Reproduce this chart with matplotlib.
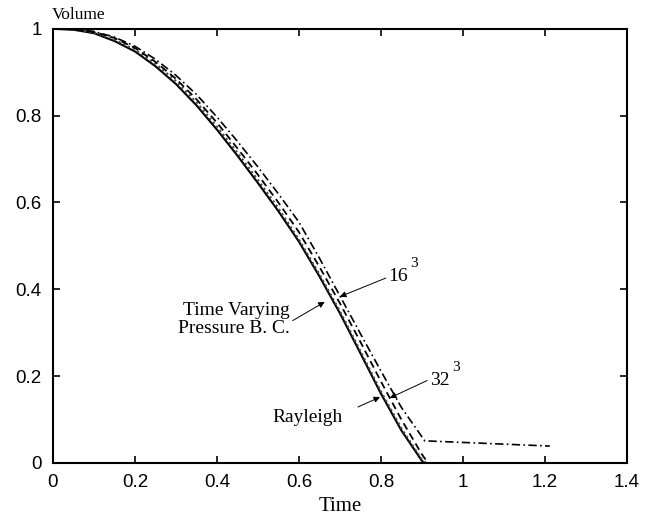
import matplotlib.pyplot as plt

# values
t_rayleigh = [0, 0.05, 0.1, 0.15, 0.2, 0.25, 0.3, 0.35, 0.4, 0.45, 0.5, 0.55, 0.6,
              0.65, 0.7, 0.75, 0.8, 0.85, 0.9, 0.905]
v_rayleigh = [1.0, 0.998, 0.99, 0.972, 0.948, 0.914, 0.873, 0.824, 0.768, 0.708, 0.645,
              0.58, 0.51, 0.43, 0.345, 0.253, 0.16, 0.075, 0.005, 0.0]

t_tvp = [0, 0.05, 0.1, 0.15, 0.2, 0.25, 0.3, 0.35, 0.4, 0.45, 0.5, 0.55, 0.6,
         0.65, 0.7, 0.75, 0.8, 0.85, 0.9, 0.91, 0.975]
v_tvp = [1.0, 0.999, 0.991, 0.975, 0.952, 0.92, 0.88, 0.831, 0.775, 0.715, 0.652,
         0.587, 0.515, 0.435, 0.35, 0.258, 0.165, 0.08, 0.008, 0.0, 0.0]

t_32 = [0, 0.05, 0.1, 0.15, 0.2, 0.25, 0.3, 0.35, 0.4, 0.45, 0.5, 0.55, 0.6,
        0.65, 0.7, 0.75, 0.8, 0.85, 0.9, 0.915]
v_32 = [1.0, 0.999, 0.993, 0.979, 0.956, 0.924, 0.885, 0.838, 0.784, 0.725, 0.664,
        0.6, 0.532, 0.452, 0.368, 0.279, 0.188, 0.10, 0.02, 0.0]

t_16 = [0, 0.05, 0.1, 0.15, 0.2, 0.25, 0.3, 0.35, 0.4, 0.45, 0.5, 0.55, 0.6,
        0.65, 0.7, 0.75, 0.8, 0.85, 0.907, 1.212]
v_16 = [1.0, 0.999, 0.994, 0.981, 0.96, 0.93, 0.893, 0.849, 0.797, 0.741, 0.682,
        0.62, 0.555, 0.472, 0.385, 0.298, 0.212, 0.128, 0.051, 0.039]

serif = 'Liberation Serif'
sans = 'Liberation Sans'

fig = plt.figure(figsize=(6.53, 5.15), dpi=100)
ax = fig.add_axes([0.081, 0.101, 0.879, 0.843])

ax.plot(t_rayleigh, v_rayleigh, color='black', lw=1.5, ls='-')
ax.plot(t_tvp, v_tvp, color='#444444', lw=1.5, ls=(0, (1, 1.5)))
ax.plot(t_32, v_32, color='black', lw=1.3, ls=(0, (4, 2.5)))
ax.plot(t_16, v_16, color='black', lw=1.2, ls=(0, (5, 2, 1, 2)))

ax.set_xlim(0, 1.4)
ax.set_ylim(0, 1)
ax.set_xticks([0, 0.2, 0.4, 0.6, 0.8, 1, 1.2, 1.4])
ax.set_xticklabels(['0', '0.2', '0.4', '0.6', '0.8', '1', '1.2', '1.4'])
ax.set_yticks([0, 0.2, 0.4, 0.6, 0.8, 1])
ax.set_yticklabels(['0', '0.2', '0.4', '0.6', '0.8', '1'])
ax.tick_params(direction='in', top=True, right=True, length=5, width=1.2,
               labelsize=13.5)
ax.tick_params(axis='x', pad=8)
ax.tick_params(axis='y', pad=8)
for lab in ax.get_xticklabels() + ax.get_yticklabels():
    lab.set_fontfamily(sans)
for s in ax.spines.values():
    s.set_linewidth(1.5)

ax.set_xlabel('Time', fontfamily=serif, fontsize=15, labelpad=4)
fig.text(0.079, 0.955, 'Volume', fontfamily=serif, fontsize=12.5, ha='left',
         va='bottom')

arrow = dict(arrowstyle='-|>', color='black', lw=0.7, mutation_scale=9,
             shrinkA=0, shrinkB=0)
txt = dict(fontfamily=serif, fontsize=14)

ax.text(0.578, 0.33, 'Time Varying\nPressure B. C.', ha='right', va='center',
        linespacing=1.05, **txt)
ax.annotate('', xy=(0.663, 0.371), xytext=(0.585, 0.328), arrowprops=arrow)

ax.text(0.817, 0.43, '16', ha='left', va='center', **txt)
ax.annotate('3', xy=(0.817, 0.43), xytext=(16, 9), textcoords='offset points',
            ha='left', va='center', fontfamily=serif, fontsize=11)
ax.annotate('', xy=(0.70, 0.383), xytext=(0.812, 0.426), arrowprops=arrow)

ax.text(0.92, 0.19, '32', ha='left', va='center', **txt)
ax.annotate('3', xy=(0.92, 0.19), xytext=(16, 9), textcoords='offset points',
            ha='left', va='center', fontfamily=serif, fontsize=11)
ax.annotate('', xy=(0.822, 0.150), xytext=(0.913, 0.19), arrowprops=arrow)

ax.text(0.707, 0.104, 'Rayleigh', ha='right', va='center', **txt)
ax.annotate('', xy=(0.798, 0.152), xytext=(0.744, 0.129), arrowprops=arrow)

fig.savefig('out.png', dpi=100)
